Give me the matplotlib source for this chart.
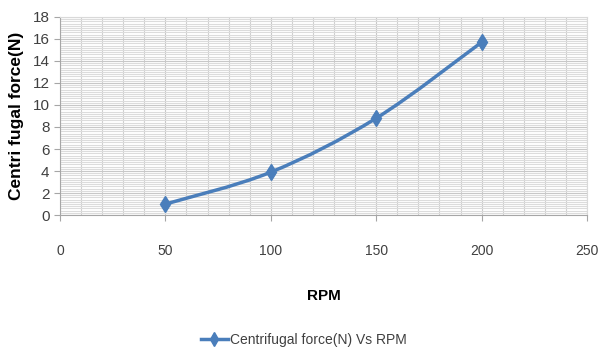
import matplotlib.pyplot as plt
import numpy as np
from matplotlib.path import Path
from matplotlib.patches import PathPatch
from matplotlib.lines import Line2D
from matplotlib.ticker import MultipleLocator

rpm = [50, 100, 150, 200]
force = [1.0, 3.9, 8.8, 15.7]
series_label = 'Centrifugal force(N) Vs RPM'

plt.rcParams['font.family'] = ['Liberation Sans', 'DejaVu Sans']

blue = '#4a7ebb'

fig = plt.figure(figsize=(6.01, 3.52), dpi=100)
ax = fig.add_axes([0.0998, 0.389, 0.877, 0.563])

ax.set_xlim(0, 250)
ax.set_ylim(0, 18)
ax.xaxis.set_major_locator(MultipleLocator(50))
ax.xaxis.set_minor_locator(MultipleLocator(10))
ax.yaxis.set_major_locator(MultipleLocator(2))
ax.yaxis.set_minor_locator(MultipleLocator(0.2))

ax.grid(True, which='major', axis='both', color='#c8c8c8', lw=0.8)
ax.grid(True, which='minor', axis='x', color='#d0d0d0', lw=0.8)
ax.grid(True, which='minor', axis='y', color='#dcdcdc', lw=0.8)
ax.set_axisbelow(True)

for s in ['top', 'right']:
    ax.spines[s].set_color('#d9d9d9')
for s in ['left', 'bottom']:
    ax.spines[s].set_color('#a6a6a6')

ax.tick_params(which='major', direction='out', length=4, color='#a6a6a6',
               labelsize=10, labelcolor='#404040')
ax.tick_params(which='minor', length=0)
ax.tick_params(axis='x', pad=17)
ax.tick_params(axis='y', labelsize=11)

# smoothed line through the points (Catmull-Rom style bezier)
pts = np.column_stack([rpm, force]).astype(float)
verts = [tuple(pts[0])]
codes = [Path.MOVETO]
n = len(pts)
for i in range(n - 1):
    p0 = pts[max(i - 1, 0)]
    p1 = pts[i]
    p2 = pts[i + 1]
    p3 = pts[min(i + 2, n - 1)]
    c1 = p1 + (p2 - p0) / 6.0
    c2 = p2 - (p3 - p1) / 6.0
    verts += [tuple(c1), tuple(c2), tuple(p2)]
    codes += [Path.CURVE4] * 3
ax.add_patch(PathPatch(Path(verts, codes), fill=False, edgecolor=blue, lw=2.5,
                       capstyle='round', zorder=3))
ax.plot(rpm, force, linestyle='none', marker='d', markersize=8, color=blue, zorder=4)

ax.set_ylabel('Centri fugal force(N)', fontsize=12.5, fontweight='bold', labelpad=6)
ax.set_xlabel('RPM', fontsize=11, fontweight='bold', labelpad=22)

handle = Line2D([], [], color=blue, lw=2.5, marker='d', markersize=7)
fig.legend([handle], [series_label], loc='center', bbox_to_anchor=(0.505, 0.035),
           frameon=False, fontsize=10, handlelength=2.0, handletextpad=0.1,
           labelcolor='#404040')

fig.savefig('out.png', dpi=100)
